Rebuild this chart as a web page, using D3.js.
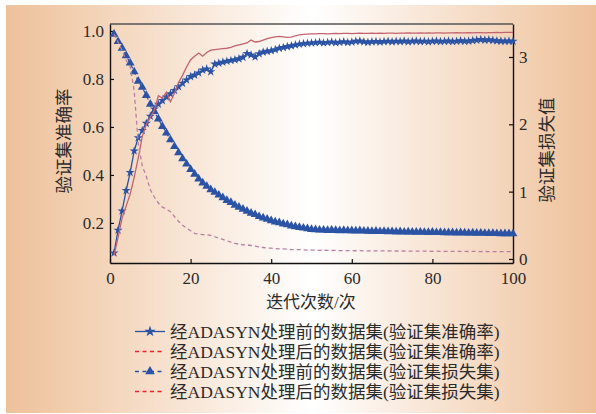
<!DOCTYPE html>
<html>
<head>
  <meta charset="utf-8">
  <title>ADASYN validation curves</title>
  <style>
  body { margin: 0; background: #fff; }
  svg text { fill: #2b2b2b; font-family: "Liberation Serif", "Noto Sans CJK SC", serif; }
  </style>
</head>
<body>
<svg width="596" height="414"></svg>
<script src="https://cdn.jsdelivr.net/npm/d3@7/dist/d3.min.js"></script>
<script>

// epochs 1..100
var epochs = d3.range(1, 101);

// accuracy before ADASYN (left axis)
var accBefore = [
  0.075, 0.17, 0.25, 0.335, 0.41, 0.50, 0.555, 0.585, 0.615, 0.645,
  0.675, 0.695, 0.71, 0.725, 0.738, 0.752, 0.768, 0.782, 0.796, 0.81,
  0.816, 0.825, 0.837, 0.842, 0.830, 0.862, 0.866, 0.870, 0.874, 0.877,
  0.880, 0.884, 0.890, 0.906, 0.900, 0.892, 0.905, 0.912, 0.915, 0.918,
  0.922, 0.928, 0.931, 0.935, 0.938, 0.942, 0.945, 0.947, 0.949, 0.950,
  0.951, 0.953, 0.950, 0.952, 0.954, 0.951, 0.953, 0.955, 0.952, 0.954,
  0.957, 0.958, 0.955, 0.953, 0.955, 0.956, 0.954, 0.956, 0.957, 0.955,
  0.957, 0.956, 0.958, 0.955, 0.957, 0.958, 0.956, 0.957, 0.955, 0.957,
  0.958, 0.956, 0.957, 0.958, 0.956, 0.957, 0.959, 0.957, 0.958, 0.960,
  0.962, 0.964, 0.962, 0.963, 0.961, 0.959, 0.958, 0.957, 0.958, 0.957
];

// accuracy after ADASYN (left axis)
var accAfter = [
  0.065, 0.14, 0.22, 0.27, 0.32, 0.39, 0.47, 0.56, 0.61, 0.64,
  0.67, 0.73, 0.72, 0.745, 0.705, 0.74, 0.785, 0.815, 0.85, 0.88,
  0.895, 0.908, 0.895, 0.91, 0.92, 0.922, 0.924, 0.926, 0.928, 0.932,
  0.938, 0.942, 0.946, 0.95, 0.962, 0.954, 0.956, 0.962, 0.968, 0.972,
  0.975, 0.977, 0.975, 0.973, 0.974, 0.98, 0.984, 0.986, 0.987, 0.988,
  0.988, 0.989, 0.989, 0.988, 0.989, 0.990, 0.989, 0.990, 0.990, 0.989,
  0.990, 0.991, 0.990, 0.990, 0.991, 0.990, 0.991, 0.990, 0.991, 0.991,
  0.990, 0.991, 0.991, 0.992, 0.991, 0.991, 0.992, 0.991, 0.992, 0.991,
  0.992, 0.992, 0.991, 0.992, 0.992, 0.993, 0.992, 0.992, 0.993, 0.992,
  0.993, 0.993, 0.992, 0.993, 0.993, 0.994, 0.993, 0.994, 0.994, 0.994
];

// loss before ADASYN (right axis)
var lossBefore = [
  3.34, 3.23, 3.13, 3.02, 2.91, 2.78, 2.64, 2.55, 2.43, 2.30,
  2.19, 2.08, 1.97, 1.87, 1.77, 1.67, 1.58, 1.49, 1.41, 1.33,
  1.26, 1.19, 1.13, 1.08, 1.03, 0.99, 0.95, 0.91, 0.87, 0.84,
  0.80, 0.77, 0.74, 0.71, 0.68, 0.66, 0.63, 0.61, 0.59, 0.57,
  0.55, 0.54, 0.52, 0.51, 0.49, 0.48, 0.47, 0.46, 0.45, 0.44,
  0.435, 0.43, 0.43, 0.425, 0.43, 0.425, 0.42, 0.425, 0.42, 0.42,
  0.418, 0.42, 0.415, 0.413, 0.41, 0.412, 0.408, 0.41, 0.405, 0.407,
  0.403, 0.405, 0.40, 0.402, 0.40, 0.398, 0.40, 0.396, 0.395, 0.397,
  0.393, 0.395, 0.392, 0.39, 0.392, 0.388, 0.39, 0.386, 0.385, 0.387,
  0.383, 0.385, 0.382, 0.38, 0.382, 0.378, 0.377, 0.376, 0.375, 0.374
];

// loss after ADASYN (right axis)
var lossAfter = [
  3.34, 3.22, 3.10, 2.95, 2.86, 2.50, 1.72, 1.38, 1.23, 1.03,
  0.92, 0.83, 0.77, 0.74, 0.70, 0.63, 0.56, 0.50, 0.46, 0.42,
  0.38, 0.37, 0.36, 0.36, 0.35, 0.33, 0.31, 0.29, 0.27, 0.25,
  0.23, 0.22, 0.21, 0.21, 0.20, 0.19, 0.18, 0.17, 0.16, 0.16,
  0.155, 0.15, 0.15, 0.145, 0.14, 0.14, 0.14, 0.135, 0.13, 0.13,
  0.13, 0.128, 0.13, 0.127, 0.126, 0.128, 0.125, 0.124, 0.125, 0.123,
  0.122, 0.123, 0.121, 0.12, 0.121, 0.12, 0.119, 0.12, 0.118, 0.119,
  0.118, 0.117, 0.118, 0.116, 0.117, 0.116, 0.115, 0.116, 0.115, 0.114,
  0.115, 0.114, 0.113, 0.114, 0.113, 0.112, 0.113, 0.112, 0.111, 0.112,
  0.111, 0.11, 0.111, 0.11, 0.11, 0.109, 0.11, 0.109, 0.108, 0.108
];

var xTicks = [0, 20, 40, 60, 80, 100];
var leftTicks = [0.2, 0.4, 0.6, 0.8, 1.0];
var rightTicks = [0, 1, 2, 3];

var legendLabels = [
  "经ADASYN处理前的数据集(验证集准确率)",
  "经ADASYN处理后的数据集(验证集准确率)",
  "经ADASYN处理前的数据集(验证集损失集)",
  "经ADASYN处理后的数据集(验证集损失集)"
];

var blue = "#2b53a5",
    red = "#c2636f",
    pink = "#ba7fa0";

var svg = d3.select("svg");

// background gradient
var grad = svg.append("defs").append("linearGradient")
    .attr("id", "bg").attr("x1", "0%").attr("x2", "100%");
grad.append("stop").attr("offset", "0%").attr("stop-color", "#eec19a");
grad.append("stop").attr("offset", "52%").attr("stop-color", "#ffffff");
grad.append("stop").attr("offset", "100%").attr("stop-color", "#eec19a");

svg.append("rect")
    .attr("x", 6).attr("y", 5)
    .attr("width", 590).attr("height", 408)
    .attr("fill", "url(#bg)");

var x = d3.scaleLinear().domain([0, 100]).range([110, 513]);
var yL = d3.scaleLinear().domain([0.033, 1.029]).range([263, 24]);
var yR = d3.scaleLinear().domain([-0.06, 3.49]).range([263, 24]);

// top frame line
svg.append("line")
    .attr("x1", x(0)).attr("x2", x(100))
    .attr("y1", yL(1.029)).attr("y2", yL(1.029))
    .attr("stroke", "#555").attr("stroke-width", 1.5);

var gx = svg.append("g")
    .attr("transform", "translate(0," + yL.range()[0] + ")")
    .call(d3.axisBottom(x).tickValues(xTicks).tickSizeInner(-4).tickSizeOuter(0).tickPadding(9));

var gl = svg.append("g")
    .attr("transform", "translate(" + x(0) + ",0)")
    .call(d3.axisLeft(yL).tickValues(leftTicks).tickFormat(d3.format(".1f"))
      .tickSizeInner(-4).tickSizeOuter(0).tickPadding(6));

var gr = svg.append("g")
    .attr("transform", "translate(" + x(100) + ",0)")
    .call(d3.axisRight(yR).tickValues(rightTicks).tickFormat(d3.format("d"))
      .tickSizeInner(-4).tickSizeOuter(0).tickPadding(6));

[gx, gl, gr].forEach(function(g) {
  g.selectAll(".domain").attr("stroke", "#111").attr("stroke-width", 1.4);
  g.selectAll(".tick line").attr("stroke", "#111").attr("stroke-width", 1.2);
  g.selectAll("text").attr("font-size", 17).attr("font-family", null).attr("fill", "#2b2b2b");
});

// axis titles
svg.append("text")
    .attr("transform", "translate(64,141) rotate(-90)")
    .attr("text-anchor", "middle").attr("dominant-baseline", "central")
    .attr("font-size", 17.5)
    .text("验证集准确率");

svg.append("text")
    .attr("transform", "translate(547,150) rotate(-90)")
    .attr("text-anchor", "middle").attr("dominant-baseline", "central")
    .attr("font-size", 17.5)
    .text("验证集损失值");

svg.append("text")
    .attr("x", 311).attr("y", 308)
    .attr("text-anchor", "middle")
    .attr("font-size", 17)
    .text("迭代次数/次");

var star = d3.symbol().type(d3.symbolStar).size(26);
var tri = d3.symbol().type(d3.symbolTriangle).size(34);

function series(vals) {
  return vals.map(function(v, i) { return [epochs[i], v]; });
}

function lineFor(yScale) {
  return d3.line()
    .x(function(d) { return x(d[0]); })
    .y(function(d) { return yScale(d[1]); });
}

// loss before: dashed blue with triangles
var lb = series(lossBefore);
svg.append("path")
    .attr("d", lineFor(yR)(lb))
    .attr("fill", "none").attr("stroke", blue)
    .attr("stroke-width", 1.2).attr("stroke-dasharray", "4,3");
svg.append("g").selectAll("path")
    .data(lb)
    .enter().append("path")
      .attr("d", tri)
      .attr("transform", function(d) { return "translate(" + x(d[0]) + "," + yR(d[1]) + ")"; })
      .attr("fill", blue);

// accuracy before: solid blue with stars
var ab = series(accBefore);
svg.append("path")
    .attr("d", lineFor(yL)(ab))
    .attr("fill", "none").attr("stroke", blue)
    .attr("stroke-width", 1.3);
svg.append("g").selectAll("path")
    .data(ab)
    .enter().append("path")
      .attr("d", star)
      .attr("transform", function(d) { return "translate(" + x(d[0]) + "," + yL(d[1]) + ")"; })
      .attr("fill", blue);

// accuracy after: thin solid red
svg.append("path")
    .attr("d", lineFor(yL)(series(accAfter)))
    .attr("fill", "none").attr("stroke", red)
    .attr("stroke-width", 1.3);

// loss after: dashed mauve
svg.append("path")
    .attr("d", lineFor(yR)(series(lossAfter)))
    .attr("fill", "none").attr("stroke", pink)
    .attr("stroke-width", 1.3).attr("stroke-dasharray", "4,3");

// legend
var legendStyles = [
  { color: blue, dash: null, marker: d3.symbolStar },
  { color: "#f0202a", dash: "4,3.5", marker: null },
  { color: blue, dash: "4,3.5", marker: d3.symbolTriangle },
  { color: "#f0202a", dash: "4,3.5", marker: null }
];

var legend = svg.append("g").selectAll("g")
    .data(legendLabels)
    .enter().append("g")
      .attr("transform", function(d, i) { return "translate(0," + (331.5 + i * 20) + ")"; });

legend.append("line")
    .attr("x1", 135).attr("x2", 165)
    .attr("stroke", function(d, i) { return legendStyles[i].color; })
    .attr("stroke-width", 1.3)
    .attr("stroke-dasharray", function(d, i) { return legendStyles[i].dash; });

legend.filter(function(d, i) { return legendStyles[i].marker; })
  .append("path")
    .attr("d", function(d) {
      return d3.symbol().type(legendStyles[legendLabels.indexOf(d)].marker).size(40)();
    })
    .attr("transform", "translate(150,0)")
    .attr("fill", blue);

legend.append("text")
    .attr("x", 170).attr("y", 6)
    .attr("font-size", 17.5)
    .text(function(d) { return d; });

</script>
</body>
</html>
